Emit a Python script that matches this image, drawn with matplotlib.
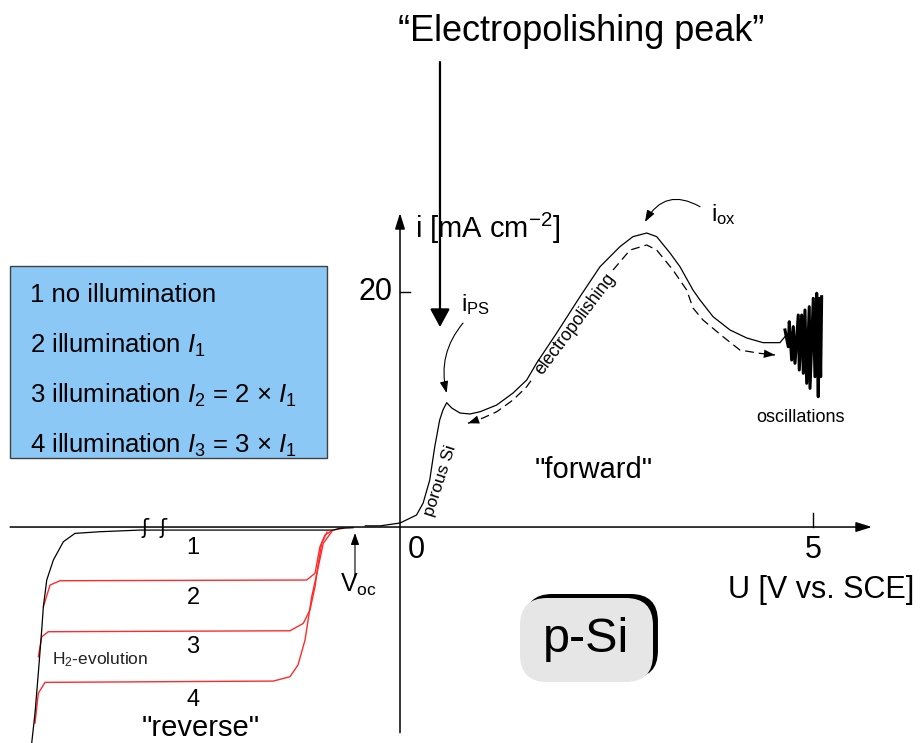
"""Schematic i-U characteristic of p-Si in HF (forward and reverse scans)."""

import matplotlib

matplotlib.use("Agg")
import matplotlib.pyplot as plt
from matplotlib.patches import Rectangle, FancyBboxPatch

plt.rcParams["font.family"] = ["Liberation Sans", "DejaVu Sans"]
plt.rcParams["mathtext.fontset"] = "custom"
plt.rcParams["mathtext.rm"] = "Liberation Sans"
plt.rcParams["mathtext.it"] = "Liberation Sans:italic"

# --- forward branch (solid), U in V, i in mA cm-2 ---
fwd_u = [-0.42, -0.24, 0.0, 0.20, 0.28, 0.36, 0.42, 0.48, 0.52, 0.565, 0.626,
         0.726, 0.847, 0.969, 1.17, 1.368, 1.534, 1.655, 1.897, 2.179, 2.421,
         2.663, 2.82, 2.987, 3.108, 3.269, 3.39, 3.547, 3.632, 3.79, 3.995,
         4.197, 4.395, 4.600, 4.661]
fwd_i = [0.1, 0.1, 0.34, 1.02, 2.04, 4.0, 6.8, 9.1, 9.96, 10.58, 10.13,
         9.70, 9.62, 9.81, 10.38, 11.40, 12.51, 13.96, 16.51, 19.60, 22.15,
         23.86, 24.71, 25.02, 24.71, 23.32, 22.15, 20.17, 19.32, 17.90, 16.77,
         16.09, 15.69, 15.69, 16.20]

# oscillation spikes at the end of the forward scan
osc_u = [4.661, 4.701, 4.713, 4.742, 4.762, 4.782, 4.822, 4.834, 4.863, 4.883,
         4.903, 4.924, 4.955, 4.964, 5.004, 5.024, 5.045, 5.064, 5.076, 5.093,
         5.105]
osc_i = [16.77, 15.34, 17.47, 14.21, 17.05, 13.93, 18.04, 13.36, 18.04, 13.08,
         18.47, 12.23, 18.75, 11.80, 19.46, 12.79, 19.89, 11.09, 19.46, 12.79,
         19.60]

# backward branch (dashed), split where the "electropolishing" label sits
back_lo_u = [0.823, 1.005, 1.171, 1.368, 1.534, 1.61]
back_lo_i = [8.83, 9.28, 9.81, 10.81, 11.94, 12.7]
back_hi_u = [2.579, 2.785, 2.987, 3.108, 3.305, 3.471, 3.547, 3.668, 3.910,
             4.116, 4.358, 4.540]
back_hi_i = [21.87, 23.57, 24.0, 23.57, 21.87, 20.17, 18.64, 17.62, 16.20,
             15.06, 14.78, 14.64]

# reverse branches: 1 no illumination (black), 2-4 illuminated (red)
rev1_u = [-4.459, -4.419, -4.379, -4.338, -4.318, -4.277, -4.197, -4.076,
          -3.935, -3.632, -3.148, -0.811, -0.726, -0.569]
rev1_i = [-18.38, -15.83, -12.43, -8.77, -6.78, -4.51, -2.81, -1.25,
          -0.54, -0.40, -0.26, -0.26, -0.11, -0.06]
rev2_u = [-4.318, -4.237, -4.116, -1.130, -1.029, -0.969, -0.908, -0.811, -0.690]
rev2_i = [-6.78, -4.94, -4.57, -4.51, -3.94, -1.68, -0.68, -0.26, -0.11]
rev3_u = [-4.379, -4.338, -4.258, -1.332, -1.171, -1.090, -1.029, -0.989,
          -0.948, -0.884]
rev3_i = [-11.04, -9.34, -8.91, -8.83, -8.20, -7.06, -5.08, -3.09, -1.39, -0.43]
rev4_u = [-4.419, -4.379, -4.298, -1.534, -1.332, -1.235, -1.150, -1.069,
          -0.989, -0.929, -0.827]
rev4_i = [-16.68, -14.15, -13.22, -13.11, -12.74, -11.74, -9.62, -5.93,
          -3.38, -1.39, -0.40]

curve_labels = ["1", "2", "3", "4"]
curve_label_i = [-1.79, -6.04, -10.21, -14.72]

legend_lines = [
    "1 no illumination",
    r"2 illumination $\mathit{I_1}$",
    r"3 illumination $\mathit{I_2}$ = 2 × $\mathit{I_1}$",
    r"4 illumination $\mathit{I_3}$ = 3 × $\mathit{I_1}$",
]
legend_i = [19.74, 15.49, 11.23, 6.98]

RED = "#ff2a2a"

fig = plt.figure(figsize=(9.22, 7.43), dpi=100)
ax = fig.add_axes([0, 0, 1, 1])
ax.set_xlim(-4.843, 6.320)
ax.set_ylim(-18.38, 44.85)
ax.axis("off")


def arrow(tip, tail, hl=0.7, hw=0.25, lw=0.8, ms=10, conn="arc3,rad=0"):
    ax.annotate("", xy=tip, xytext=tail,
                arrowprops=dict(arrowstyle=f"-|>,head_length={hl},head_width={hw}",
                                lw=lw, color="black", mutation_scale=ms,
                                shrinkA=0, shrinkB=0, connectionstyle=conn))


# -- axes drawn by hand with arrow heads --
arrow((5.714, 0), (-4.72, 0), hl=0.8, hw=0.25, lw=1.1, ms=12)
arrow((0, 26.72), (0, -17.5), hl=0.8, hw=0.25, lw=1.1, ms=12)
ax.plot([5, 5], [0, 1.2], color="black", lw=1)
ax.plot([0, 0.12], [20, 20], color="black", lw=1)
ax.text(0.202, -1.96, "0", fontsize=22, ha="center", va="center")
ax.text(5.004, -1.96, "5", fontsize=22, ha="center", va="center")
ax.text(-0.085, 20.0, "20", fontsize=22, ha="right", va="center")
ax.text(5.103, -5.36, "U [V vs. SCE]", fontsize=22, ha="center", va="center")
ax.text(0.182, 25.45, r"i [mA cm$^{-2}$]", fontsize=21, ha="left", va="center")
for bu in [-3.087, -2.869]:
    ax.text(bu, -0.1, "ʃ", fontsize=15, ha="center", va="center",
            family="DejaVu Sans")

# -- curves --
ax.plot(rev2_u, rev2_i, color=RED, lw=1)
ax.plot(rev3_u, rev3_i, color=RED, lw=1)
ax.plot(rev4_u, rev4_i, color=RED, lw=1)
ax.plot(rev1_u, rev1_i, color="black", lw=0.9)
ax.plot(fwd_u, fwd_i, color="black", lw=0.9)
ax.plot(osc_u, osc_i, color="black", lw=2.2)
ax.plot(back_lo_u, back_lo_i, color="black", lw=0.9, dashes=(7, 4))
ax.plot(back_hi_u, back_hi_i, color="black", lw=0.9, dashes=(7, 4))
arrow((back_lo_u[0], back_lo_i[0]), (back_lo_u[1], back_lo_i[1]),
      hl=0.8, hw=0.3, lw=0)
arrow((back_hi_u[-1], back_hi_i[-1]), (back_hi_u[-2], back_hi_i[-2]),
      hl=0.8, hw=0.3, lw=0)

for lab, li in zip(curve_labels, curve_label_i):
    ax.text(-2.506, li, lab, fontsize=17, ha="center", va="center")

# -- annotations --
ax.text(2.191, 42.13, "“Electropolishing peak”", fontsize=26,
        ha="center", va="center")
arrow((0.484, 17.02), (0.484, 39.57), hl=0.55, hw=0.3, lw=1.6, ms=20)

ax.text(0.739, 18.9, r"i$_{\mathregular{PS}}$", fontsize=17,
        ha="left", va="center")
arrow((0.565, 11.40), (0.763, 17.36), conn="arc3,rad=0.25")

ax.text(3.765, 26.55, r"i$_{\mathregular{ox}}$", fontsize=17,
        ha="left", va="center")
arrow((2.966, 25.96), (3.632, 27.26), conn="arc3,rad=0.5")

ax.text(-0.508, -4.94, r"V$_{\mathregular{oc}}$", fontsize=18,
        ha="center", va="center")
arrow((-0.545, -0.51), (-0.545, -4.26))

ax.text(0.484, 3.91, "porous Si", fontsize=12.5, rotation=72,
        ha="center", va="center")
ax.text(2.119, 17.28, "electropolishing", fontsize=12.7, rotation=53,
        ha="center", va="center")
ax.text(4.855, 9.36, "oscillations", fontsize=13, ha="center", va="center")
ax.text(-3.632, -11.32, r"H$_2$-evolution", fontsize=12.5,
        ha="center", va="center", color="#222222")
ax.text(2.349, 4.85, '"forward"', fontsize=21, ha="center", va="center")
ax.text(-2.412, -17.11, '"reverse"', fontsize=21, ha="center", va="center")

# -- legend box --
ax.add_patch(Rectangle((-4.722, 5.87), 3.835, 16.32, facecolor="#8cc8f5",
                       edgecolor="#404040", lw=1))
for txt, li in zip(legend_lines, legend_i):
    ax.text(-4.479, li, txt, fontsize=18.5, ha="left", va="center")

# -- p-Si box with shadow --
aspect = 82.6 / 11.75
box_kw = dict(boxstyle="round,pad=0,rounding_size=0.33", mutation_aspect=aspect)
ax.add_patch(FancyBboxPatch((1.513, -12.85), 1.61, 7.15, facecolor="black",
                            edgecolor="none", **box_kw))
ax.add_patch(FancyBboxPatch((1.453, -13.19), 1.61, 7.15, facecolor="#e6e6e6",
                            edgecolor="none", **box_kw))
ax.text(2.258, -9.6, "p-Si", fontsize=35, ha="center", va="center")

fig.savefig("out.png", dpi=100)
